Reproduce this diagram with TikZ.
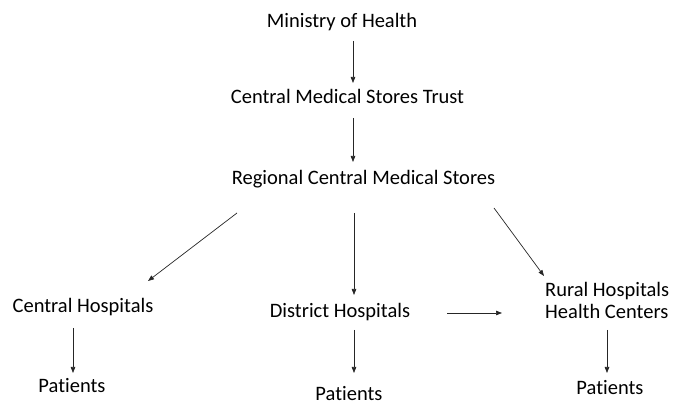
\documentclass[tikz,border=0pt]{standalone}
\usepackage{fontspec}
\setmainfont{Carlito}[Ligatures=NoCommon]
\usetikzlibrary{arrows.meta}

\begin{document}
\begin{tikzpicture}[x=1pt,y=1pt,
    lbl/.style={inner sep=0pt,font=\fontsize{20.5}{22.5}\selectfont},
    flow/.style={-{Triangle[length=6pt,width=4.5pt]},line width=.7pt,black!85}]
\useasboundingbox (0,0) rectangle (673,403);

\node (moh)  [lbl,anchor=base] at (342,375)   {Ministry of Health};
\node (cmst) [lbl,anchor=base] at (347.5,299) {Central Medical Stores Trust};
\node (rcms) [lbl,anchor=base] at (363.5,218) {Regional Central Medical Stores};
\node (ch)   [lbl,anchor=base] at (83,90)     {Central Hospitals};
\node (dh)   [lbl,anchor=base] at (340,85)    {District Hospitals};
\node (rh)   [lbl,anchor=base west,align=left] at (545,84) {Rural Hospitals\\Health Centers};
\node (pc)   [lbl,anchor=base] at (72,10)     {Patients};
\node (pd)   [lbl,anchor=base] at (349,2)     {Patients};
\node (pr)   [lbl,anchor=base] at (610,8)     {Patients};

\path (moh.base) +(11,-13) coordinate (mohout);
\path (cmst.base) +(5.5,21) coordinate (cmstin);
\draw[flow] (mohout) -- (cmstin);
\path (cmst.base) +(5.5,-14) coordinate (cmstout);
\path (rcms.base) +(-10.5,23) coordinate (rcmsin);
\draw[flow] (cmstout) -- (rcmsin);
\path (rcms.base) +(-126.5,-28) coordinate (rcmsl);
\path (ch.base) +(65,32) coordinate (chin);
\draw[flow] (rcmsl) -- (chin);
\path (rcms.base) +(-9.5,-28) coordinate (rcmsm);
\path (dh.base) +(14,23) coordinate (dhin);
\draw[flow] (rcmsm) -- (dhin);
\path (rcms.base) +(130.5,-23) coordinate (rcmsr);
\path (rh.base west) +(-1,43) coordinate (rhin);
\draw[flow] (rcmsr) -- (rhin);
\path (dh.base) +(107,5) coordinate (dhright);
\path (rh.base west) +(-43,6) coordinate (rhleft);
\draw[flow] (dhright) -- (rhleft);
\path (ch.base) +(-10,-15) coordinate (chout);
\path (pc.base) +(1,20) coordinate (pcin);
\draw[flow] (chout) -- (pcin);
\path (dh.base) +(14,-12) coordinate (dhout);
\path (pd.base) +(5,28) coordinate (pdin);
\draw[flow] (dhout) -- (pdin);
\path (rh.base west) +(62,-11) coordinate (rhout);
\path (pr.base) +(-3,22) coordinate (prin);
\draw[flow] (rhout) -- (prin);
\end{tikzpicture}
\end{document}
